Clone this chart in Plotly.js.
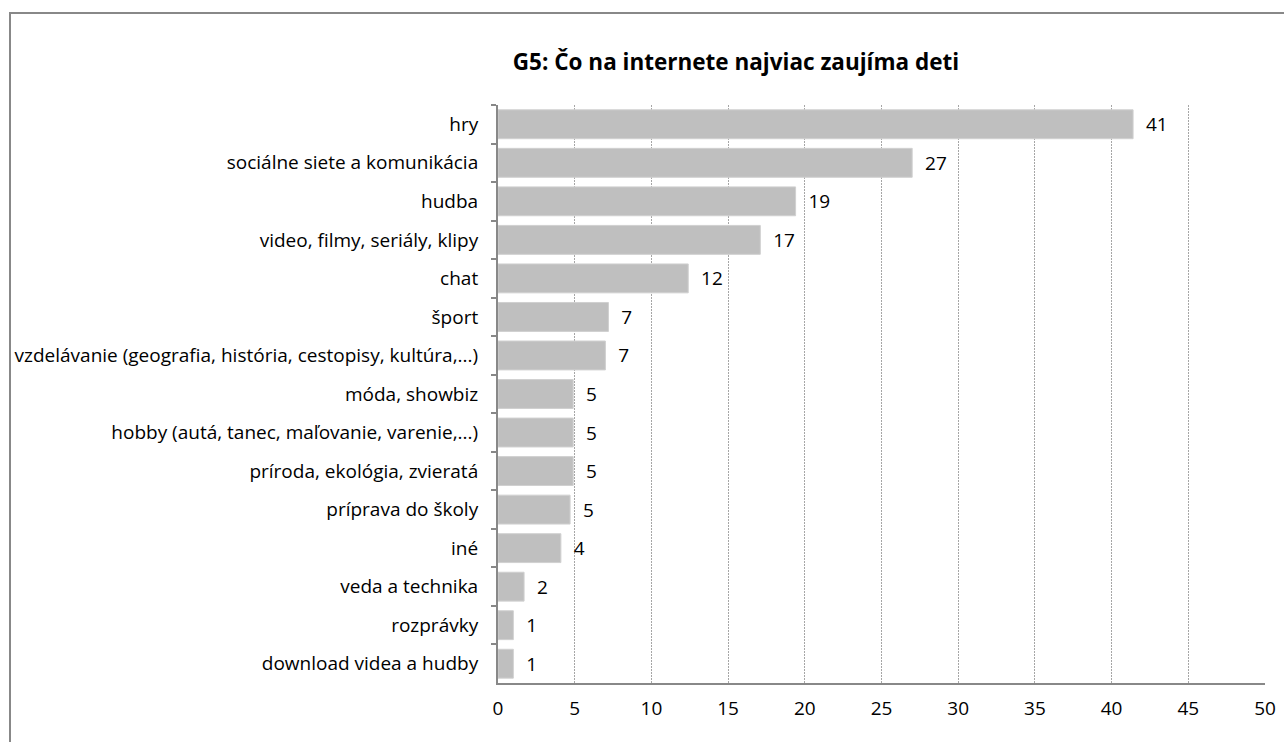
<!DOCTYPE html>
<html>
<head>
<meta charset="utf-8">
<script src="https://cdn.plot.ly/plotly-3.0.1.min.js"></script>
<style>
html,body{margin:0;padding:0;background:#fff;overflow:hidden;}
#frame{position:absolute;left:9px;top:12px;width:1300px;height:760px;border:2px solid #888;box-sizing:border-box;pointer-events:none;z-index:2;}
#chart{position:absolute;left:0;top:0;width:1284px;height:742px;z-index:1;}
</style>
</head>
<body>
<div id="frame"></div>
<div id="chart"></div>
<script>
const categories = [
  "hry",
  "sociálne siete a komunikácia",
  "hudba",
  "video, filmy, seriály, klipy",
  "chat",
  "šport",
  "vzdelávanie (geografia, história, cestopisy, kultúra,...)",
  "móda, showbiz",
  "hobby (autá, tanec, maľovanie, varenie,...)",
  "príroda, ekológia, zvieratá",
  "príprava do školy",
  "iné",
  "veda a technika",
  "rozprávky",
  "download videa a hudby"
];
const values = [41.4, 27.0, 19.4, 17.1, 12.4, 7.2, 7.0, 4.9, 4.9, 4.9, 4.7, 4.1, 1.7, 1.0, 1.0];
const valueLabels = ["41", "27", "19", "17", "12", "7", "7", "5", "5", "5", "5", "4", "2", "1", "1"];
const xTicks = [0, 5, 10, 15, 20, 25, 30, 35, 40, 45, 50];
const chartTitle = "G5: Čo na internete najviac zaujíma deti";

const font = "'Open Sans', 'Noto Sans', sans-serif";
const fs = 19;

const trace = {
  type: "bar",
  orientation: "h",
  y: categories,
  x: values,
  text: valueLabels.map(t => "\u00a0\u00a0" + t),
  textposition: "outside",
  cliponaxis: false,
  textfont: {family: font, size: fs, color: "#000"},
  marker: {color: "#BFBFBF", line: {color: "#D0D0D0", width: 1}},
  hoverinfo: "none"
};

const layout = {
  width: 1284,
  height: 742,
  margin: {l: 498, r: 19, t: 105, b: 59},
  paper_bgcolor: "rgba(0,0,0,0)",
  plot_bgcolor: "#fff",
  bargap: 0.25,
  showlegend: false,
  title: {
    text: "<b>" + chartTitle + "</b>",
    font: {family: font, size: 22.5, color: "#000"},
    xref: "container",
    x: 736/1284, xanchor: "center",
    y: 1 - 62/742, yanchor: "middle"
  },
  xaxis: {
    range: [0, 50],
    tickvals: xTicks,
    ticktext: xTicks.map(String),
    showgrid: true,
    gridcolor: "#A6A6A6",
    griddash: "2px,1px",
    gridwidth: 1,
    zeroline: false,
    showline: true,
    linecolor: "#888",
    linewidth: 2,
    ticks: "",
    ticklabelstandoff: 7,
    tickfont: {family: font, size: fs, color: "#000"},
    fixedrange: true
  },
  yaxis: {
    type: "category",
    autorange: "reversed",
    showline: true,
    linecolor: "#888",
    linewidth: 2,
    ticks: "outside",
    tickson: "boundaries",
    ticklen: 5,
    tickcolor: "#888",
    tickwidth: 2,
    ticklabelstandoff: 14,
    showgrid: false,
    tickfont: {family: font, size: fs, color: "#000"},
    fixedrange: true
  }
};

Plotly.newPlot("chart", [trace], layout, {displayModeBar: false, staticPlot: true});
</script>
</body>
</html>
